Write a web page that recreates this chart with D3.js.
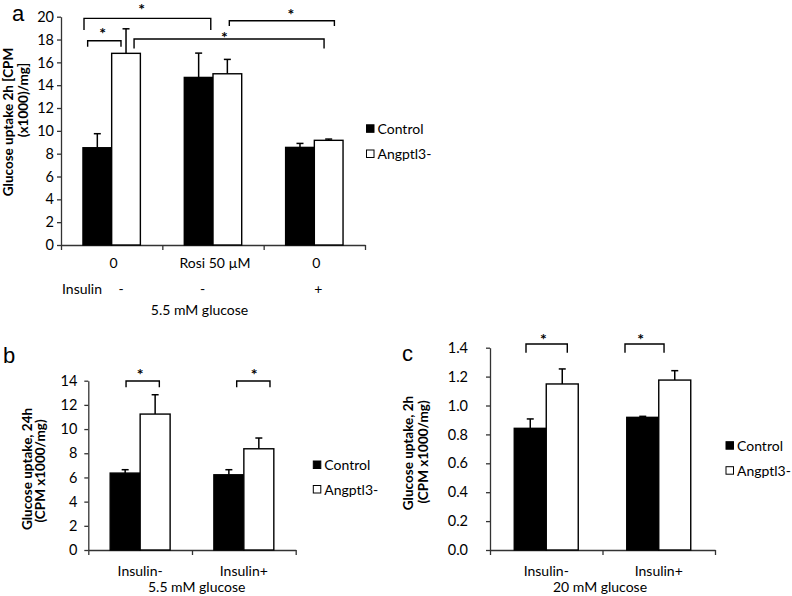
<!DOCTYPE html>
<html><head><meta charset="utf-8">
<script src="https://cdn.jsdelivr.net/npm/d3@7"></script>
<style>body{margin:0;background:#fff}</style>
</head><body>
<svg id="chart" width="792" height="596" xmlns="http://www.w3.org/2000/svg"></svg>
<script>
// ---------- data ----------
const seriesNames = ["Control", "Angptl3-"];

// panel a
const catsA = ["0", "Rosi 50 µM", "0"];
const insulinA = ["-", "-", "+"];
const controlA = [8.52, 14.68, 8.55];
const controlErrA = [1.23, 2.13, 0.35];
const angA = [16.79, 15.0, 9.17];
const angErrA = [2.15, 1.26, 0.11];
const ticksA = [0, 2, 4, 6, 8, 10, 12, 14, 16, 18, 20];
// brackets: [x from, x to (category index units), y top, y leg end, star x, star y]
const bracketsA = [
  [0.227, 1.478, 19.85, 18.83, 0.795, 20.81],
  [0.263, 0.592, 17.89, 17.36, 0.412, 18.77],
  [0.721, 2.596, 18.04, 17.22, 1.612, 18.42],
  [1.661, 2.698, 19.64, 19.18, 2.268, 20.43]
];

// panel b
const catsB = ["Insulin-", "Insulin+"];
const controlB = [6.36, 6.22];
const controlErrB = [0.28, 0.42];
const angB = [11.24, 8.37];
const angErrB = [1.60, 0.89];
const ticksB = [0, 2, 4, 6, 8, 10, 12, 14];
const bracketsB = [
  [0.364, 0.685, 13.97, 13.45, 0.50, 14.71],
  [1.431, 1.752, 13.97, 13.45, 1.60, 14.71]
];

// panel c
const catsC = ["Insulin-", "Insulin+"];
const controlC = [0.842, 0.918];
const controlErrC = [0.065, 0.007];
const angC = [1.149, 1.176];
const angErrC = [0.104, 0.065];
const ticksC = [0, 0.2, 0.4, 0.6, 0.8, 1.0, 1.2, 1.4];
const bracketsC = [
  [0.32, 0.687, 1.426, 1.365, 0.474, 1.476],
  [1.20, 1.547, 1.426, 1.365, 1.34, 1.476]
];

// ---------- drawing ----------
const FONT = "Lato, 'Open Sans', sans-serif";
const svg = d3.select("#chart");
svg.append("rect").attr("width", 792).attr("height", 596).attr("fill", "#fff");

function panel(o) {
  const g = svg.append("g");
  const x0 = d3.scaleBand().domain(d3.range(o.cats.length)).range([o.left, o.right]).padding(0);
  const xi = d3.scaleLinear().domain([0, o.cats.length]).range([o.left, o.right]);
  const x1 = d3.scaleBand().domain(seriesNames).range([0, x0.bandwidth()]).paddingInner(0).paddingOuter(o.pad);
  const y = d3.scaleLinear().domain([0, o.ticks[o.ticks.length - 1]]).range([o.bottom, o.top]);

  // y axis
  const ya = g.append("g").attr("transform", `translate(${o.left},0)`)
    .call(d3.axisLeft(y).tickValues(o.ticks).tickSize(4).tickSizeOuter(0).tickPadding(o.tickPad).tickFormat(o.fmt));
  ya.selectAll("path,line").attr("stroke", "#333").attr("stroke-width", 1.3);
  ya.selectAll("text").attr("font-family", FONT).attr("font-size", 14.5).attr("fill", "#000");

  // x axis
  const xa = g.append("g").attr("transform", `translate(0,${o.bottom})`)
    .call(d3.axisBottom(xi).tickValues(d3.range(o.cats.length + 1)).tickSize(5).tickSizeOuter(0).tickFormat(""));
  xa.selectAll("path,line").attr("stroke", "#333").attr("stroke-width", 1.3);

  // category labels
  g.selectAll(".cat").data(o.cats).enter().append("text")
    .attr("x", (d, i) => x0(i) + x0.bandwidth() / 2 + o.catShift)
    .attr("y", o.catY).attr("text-anchor", "middle")
    .attr("font-family", FONT).attr("font-size", 14).attr("fill", "#000").text(d => d);

  // bars
  const rows = [];
  o.cats.forEach((c, i) => {
    rows.push({i, s: seriesNames[0], v: o.v0[i], e: o.e0[i]});
    rows.push({i, s: seriesNames[1], v: o.v1[i], e: o.e1[i]});
  });
  const cx = d => x0(d.i) + x1(d.s) + x1.bandwidth() / 2;
  // error bars (up only)
  g.selectAll(".err").data(rows).enter().append("line")
    .attr("x1", cx).attr("x2", cx).attr("y1", d => y(d.v)).attr("y2", d => y(d.v + d.e))
    .attr("stroke", "#000").attr("stroke-width", 1.5);
  g.selectAll(".cap").data(rows).enter().append("line")
    .attr("x1", d => cx(d) - 3.5).attr("x2", d => cx(d) + 3.5)
    .attr("y1", d => y(d.v + d.e)).attr("y2", d => y(d.v + d.e))
    .attr("stroke", "#000").attr("stroke-width", 1.5);
  g.selectAll(".bar").data(rows).enter().append("rect")
    .attr("x", d => x0(d.i) + x1(d.s)).attr("width", x1.bandwidth())
    .attr("y", d => y(d.v)).attr("height", d => y(0) - y(d.v))
    .attr("fill", d => d.s === seriesNames[0] ? "#000" : "#fff")
    .attr("stroke", "#000").attr("stroke-width", 1.4);

  // brackets
  o.brackets.forEach(b => {
    const p = d3.path();
    p.moveTo(xi(b[0]), y(b[3]));
    p.lineTo(xi(b[0]), y(b[2]));
    p.lineTo(xi(b[1]), y(b[2]));
    p.lineTo(xi(b[1]), y(b[3]));
    g.append("path").attr("d", p.toString()).attr("fill", "none")
      .attr("stroke", "#000").attr("stroke-width", 1.4);
    g.append("text").attr("x", xi(b[4])).attr("y", y(b[5]) + 8)
      .attr("text-anchor", "middle").attr("font-family", FONT).attr("fill", "#000")
      .attr("font-size", 16).attr("font-weight", "bold").text("*");
  });

  // y label
  o.ylab.forEach(l => {
    g.append("text").attr("transform", `translate(${l[1]},${l[2]}) rotate(-90)`)
      .attr("text-anchor", "middle").attr("font-family", FONT)
      .attr("font-size", o.ylabSize).attr("font-weight", "bold").attr("fill", "#000").text(l[0]);
  });

  // legend
  seriesNames.forEach((s, k) => {
    const ly = o.legY[k];
    g.append("rect").attr("x", o.legX).attr("y", ly - 4).attr("width", 7.5).attr("height", 7.5)
      .attr("fill", k === 0 ? "#000" : "#fff").attr("stroke", "#000").attr("stroke-width", 1);
    g.append("text").attr("x", o.legX + 11).attr("y", ly + 5)
      .attr("font-family", FONT).attr("font-size", 14).attr("fill", "#000").text(s);
  });

  // panel letter
  g.append("text").attr("x", o.letter[1]).attr("y", o.letter[2])
    .attr("font-family", "'Liberation Sans', Arial, sans-serif").attr("font-size", 22).attr("fill", "#000").text(o.letter[0]);

  // subtitle
  g.append("text").attr("x", o.sub[1]).attr("y", o.sub[2]).attr("text-anchor", "middle")
    .attr("font-family", FONT).attr("font-size", 14).attr("fill", "#000").text(o.sub[0]);

  return {x0, xi, y, g};
}

const A = panel({
  cats: catsA, v0: controlA, e0: controlErrA, v1: angA, e1: angErrA, ticks: ticksA,
  fmt: d3.format("d"), left: 61, right: 365, top: 16.7, bottom: 245, pad: 0.765, tickPad: 3,
  catY: 268, catShift: 2, brackets: bracketsA,
  ylab: [["Glucose uptake 2h [CPM", 13, 122], ["(x1000)/mg]", 28, 100]], ylabSize: 13.5,
  legX: 366.5, legY: [128.8, 154], letter: ["a", 12, 21], sub: ["5.5 mM glucose", 199.5, 315]
});
// insulin row for panel a
A.g.append("text").attr("x", 62).attr("y", 294).attr("font-family", FONT).attr("font-size", 14)
  .attr("fill", "#000").text("Insulin");
const insOffsets = [9.5, -10.5, 4];
A.g.selectAll(".ins").data(insulinA).enter().append("text")
  .attr("x", (d, i) => A.x0(i) + A.x0.bandwidth() / 2 + insOffsets[i]).attr("y", 294)
  .attr("text-anchor", "middle").attr("font-family", FONT).attr("font-size", 14).attr("fill", "#000")
  .text(d => d);

panel({
  cats: catsB, v0: controlB, e0: controlErrB, v1: angB, e1: angErrB, ticks: ticksB,
  fmt: d3.format("d"), left: 88.3, right: 295.7, top: 380.7, bottom: 550, pad: 0.73, tickPad: 7,
  catY: 576, catShift: 0, brackets: bracketsB,
  ylab: [["Glucose uptake, 24h", 32, 469], ["(CPM x1000/mg)", 45, 471]], ylabSize: 13.5,
  legX: 313.3, legY: [465, 489.5], letter: ["b", 3, 363], sub: ["5.5 mM glucose", 196.7, 592]
});

panel({
  cats: catsC, v0: controlC, e0: controlErrC, v1: angC, e1: angErrC, ticks: ticksC,
  fmt: d3.format(".1f"), left: 490, right: 715, top: 347.7, bottom: 550, pad: 0.758, tickPad: 18,
  catY: 576, catShift: 0, brackets: bracketsC,
  ylab: [["Glucose uptake, 2h", 413, 453], ["(CPM x1000/mg)", 428, 452]], ylabSize: 13.5,
  legX: 726, legY: [445.7, 470.7], letter: ["c", 402, 361], sub: ["20 mM glucose", 600, 592]
});
</script>
</body></html>
